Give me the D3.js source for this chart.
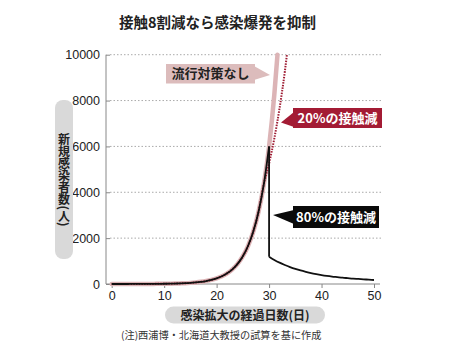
<!DOCTYPE html>
<html><head><meta charset="utf-8">
<script src="https://cdn.jsdelivr.net/npm/d3@7"></script>
<style>
body{margin:0;background:#fff;}
svg{display:block;}
text{font-family:"Noto Sans CJK JP","Noto Sans",sans-serif;}
.num{font-family:"Liberation Sans Narrow","Liberation Sans",Arial,sans-serif;}
</style></head>
<body>
<script>
// ---- data ----
const title = "接触8割減なら感染爆発を抑制";
const yLabel = "新規感染者数(人)";
const xLabel = "感染拡大の経過日数(日)";
const note = "(注)西浦博・北海道大教授の試算を基に作成";
const xTicks = [0, 10, 20, 30, 40, 50];
const yTicks = [0, 2000, 4000, 6000, 8000, 10000];

// growth phase (days 0..30), shared by all scenarios
const growthDays = [0,1,2,3,4,5,6,7,8,9,10,11,12,13,14,15,16,17,18,19,20,21,22,23,24,25,26,27,28,29,30];
const growthVals = [0.4,0.5,1,1,1.5,2,3,4,5,7,10,14,19,26,36,49,68,94,129,178,245,337,464,639,880,1211,1668,2297,3164,4357,6000];

// no countermeasures (continues beyond day 30)
const noneDays = [31, 31.6];
const noneVals = [8263, 10000];

// 20% contact reduction
const red20Days = [29, 30, 31, 32, 33, 33.4];
const red20Vals = [4357, 5260, 6350, 7670, 9260, 10000];

// 80% contact reduction (after day 30)
const red80Days = [30,31,32,33,34,35,36,37,38,39,40,41,42,43,44,45,46,47,48,49,50];
const red80Vals = [1190,1050,930,830,740,660,590,530,475,430,390,355,325,300,275,255,235,220,205,190,175];

const labelNone = "流行対策なし";
const label20 = "20%の接触減";
const label80 = "80%の接触減";

// ---- chart ----
const W = 449, H = 348;
const svg = d3.select("body").append("svg").attr("width", W).attr("height", H);

const x = d3.scaleLinear().domain([0, 50]).range([111.7, 374]);
const y = d3.scaleLinear().domain([0, 10000]).range([284, 54.7]);
const axL = 106, axR = 380;

svg.append("text").attr("x", 217.5).attr("y", 28).attr("text-anchor", "middle")
  .attr("font-size", 14.5).attr("font-weight", "bold").attr("fill", "#222").text(title);

// gridlines
svg.append("g").selectAll("line").data(yTicks.filter(d => d > 0)).join("line")
  .attr("x1", axL + 4).attr("x2", 382).attr("y1", d => y(d)).attr("y2", d => y(d))
  .attr("stroke", "#aaa").attr("stroke-width", 1).attr("stroke-dasharray", "1.5,2");

// y axis
const yAxis = d3.axisLeft(y).tickValues(yTicks).tickSize(-4).tickPadding(6).tickFormat(d3.format("d"));
const gy = svg.append("g").attr("transform", `translate(${axL},0)`).call(yAxis);
gy.select(".domain").remove();
gy.selectAll(".tick line").attr("stroke", "#888");
gy.selectAll("text").attr("class", "num").attr("font-size", 12.5).attr("fill", "#222");
svg.append("line").attr("x1", axL).attr("x2", axL).attr("y1", y(10000)).attr("y2", 284).attr("stroke", "#888");

// x axis
const xAxis = d3.axisBottom(x).tickValues(xTicks).tickSize(4).tickPadding(3).tickFormat(d3.format("d"));
const gx = svg.append("g").attr("transform", `translate(0,284)`).call(xAxis);
gx.select(".domain").remove();
gx.selectAll(".tick line").attr("stroke", "#888");
gx.selectAll("text").attr("class", "num").attr("font-size", 12.5).attr("fill", "#222");
svg.append("line").attr("x1", axL).attr("x2", axR).attr("y1", 284).attr("y2", 284).attr("stroke", "#888");

const line = d3.line().x(d => x(d[0])).y(d => y(d[1])).curve(d3.curveMonotoneX);
const lineLin = d3.line().x(d => x(d[0])).y(d => y(d[1]));

const growth = growthDays.map((d, i) => [d, growthVals[i]]);
const none = growth.concat(noneDays.map((d, i) => [d, noneVals[i]]));
const r20 = red20Days.map((d, i) => [d, red20Vals[i]]);
const r80 = red80Days.map((d, i) => [d, red80Vals[i]]);

// no countermeasures: thick pink
svg.append("path").attr("d", line(none)).attr("fill", "none")
  .attr("stroke", "#dcb4b6").attr("stroke-width", 4.5).attr("stroke-linecap", "round");
// 20%: dotted dark red
svg.append("path").attr("d", line(growth.slice(0, 30).concat(r20))).attr("fill", "none")
  .attr("stroke", "#9e1b32").attr("stroke-width", 2).attr("stroke-dasharray", "1.5,1.2");
// 80%: black
svg.append("path").attr("d", line(growth)).attr("fill", "none")
  .attr("stroke", "#111").attr("stroke-width", 1.8);
svg.append("path").attr("d", lineLin([growth[growth.length - 1], r80[0]])).attr("fill", "none")
  .attr("stroke", "#111").attr("stroke-width", 1.8);
svg.append("path").attr("d", line(r80)).attr("fill", "none")
  .attr("stroke", "#111").attr("stroke-width", 1.8);

// callouts
function callout(bx, by, bw, bh, tip, a1, a2, fill, txtColor, txt) {
  const g = svg.append("g");
  g.append("path").attr("d", `M${tip[0]},${tip[1]}L${a1[0]},${a1[1]}L${a2[0]},${a2[1]}Z`).attr("fill", fill);
  g.append("rect").attr("x", bx).attr("y", by).attr("width", bw).attr("height", bh).attr("fill", fill);
  g.append("text").attr("x", bx + bw / 2).attr("y", by + bh / 2 + 4.6).attr("text-anchor", "middle")
    .attr("font-size", 13).attr("font-weight", "bold").attr("fill", txtColor).text(txt);
}
callout(166, 64, 89, 19.5, [270, 75], [254, 66], [254, 80], "#dcbcbc", "#222", labelNone);
callout(293, 108, 89, 20, [281, 122.5], [294, 112], [294, 127], "#a31b34", "#fff", label20);
callout(293, 206, 86, 22, [273, 215], [294, 210], [294, 224], "#0a0a0a", "#fff", label80);

// y label
svg.append("rect").attr("x", 55).attr("y", 100).attr("width", 18).attr("height", 159).attr("rx", 8)
  .attr("fill", "#d9d9d9");
svg.append("text").attr("x", 64).attr("y", 180).attr("text-anchor", "middle")
  .style("writing-mode", "vertical-rl").style("text-orientation", "mixed")
  .attr("font-size", 12).attr("font-weight", "bold").attr("fill", "#222").text(yLabel);

// x label
svg.append("rect").attr("x", 165).attr("y", 306.5).attr("width", 160).attr("height", 17).attr("rx", 8.5)
  .attr("fill", "#d9d9d9");
svg.append("text").attr("x", 245).attr("y", 319.5).attr("text-anchor", "middle")
  .attr("font-size", 12).attr("font-weight", "bold").attr("fill", "#222").text(xLabel);

svg.append("text").attr("x", 121).attr("y", 338.5).attr("font-size", 10.2).attr("fill", "#333").text(note);
</script>
</body></html>
